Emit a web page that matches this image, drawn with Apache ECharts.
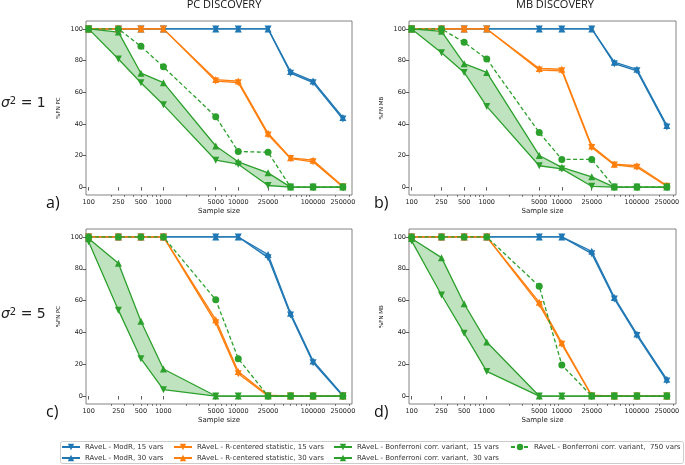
<!DOCTYPE html>
<html>

<head>
    <meta charset="utf-8">
    <title>RAveL false negatives</title>
    <script src="https://cdn.jsdelivr.net/npm/echarts@6/dist/echarts.min.js"></script>
</head>

<body style="margin:0;background:#fff;">
    <div id="main" style="width: 685px;height:465px;"></div>
    <script type="text/javascript">
        // sample sizes on the x axis (log scale) and the ones that get a label
        var sampleSizes = [100, 250, 500, 1000, 5000, 10000, 25000, 50000, 100000, 250000];
        var tickSizes = [100, 250, 500, 1000, 5000, 10000, 25000, 100000, 250000];
        var yTicks = [0, 20, 40, 60, 80, 100];

        // a) PC discovery, sigma^2 = 1
        var pc1ModR15 = [100, 100, 100, 100, 100, 100, 100, 72, 66, 43];
        var pc1ModR30 = [100, 100, 100, 100, 100, 100, 100, 73, 67, 44];
        var pc1RC15 = [100, 100, 100, 100, 67, 66, 33, 18, 16, 0];
        var pc1RC30 = [100, 100, 100, 100, 68, 67, 34, 18.5, 17, 0.5];
        var pc1Bf15 = [100, 81, 66, 52, 17, 14.5, 1, 0, 0, 0];
        var pc1Bf30 = [100, 98, 72, 66, 26, 16, 9, 0, 0, 0];
        var pc1Bf750 = [100, 100, 89, 76, 44.5, 22.5, 22, 0, 0, 0];

        // b) MB discovery, sigma^2 = 1
        var mb1ModR15 = [100, 100, 100, 100, 100, 100, 100, 78, 73.5, 38];
        var mb1ModR30 = [100, 100, 100, 100, 100, 100, 100, 79, 74.5, 39];
        var mb1RC15 = [100, 100, 100, 100, 74, 73.5, 25, 14, 12.5, 0.5];
        var mb1RC30 = [100, 100, 100, 100, 75, 74.5, 26, 14.5, 13.5, 1];
        var mb1Bf15 = [100, 85, 72.5, 51, 13.5, 11.5, 0.5, 0, 0, 0];
        var mb1Bf30 = [100, 98.5, 78, 72.5, 20, 12.5, 6.5, 0, 0, 0];
        var mb1Bf750 = [100, 100, 91.5, 81, 34.5, 17.5, 17.5, 0, 0, 0];

        // c) PC discovery, sigma^2 = 5
        var pc5ModR15 = [100, 100, 100, 100, 100, 100, 87, 51, 21, 0];
        var pc5ModR30 = [100, 100, 100, 100, 100, 100, 89, 52, 22, 0.5];
        var pc5RC15 = [100, 100, 100, 100, 46, 14, 0, 0, 0, 0];
        var pc5RC30 = [100, 100, 100, 100, 48, 15.5, 0.5, 0, 0, 0];
        var pc5Bf15 = [97, 54, 23.5, 4, 0, 0, 0, 0, 0, 0];
        var pc5Bf30 = [99, 83.5, 47, 17, 0, 0, 0, 0, 0, 0];
        var pc5Bf750 = [100, 100, 100, 100, 60.5, 23.5, 0, 0, 0, 0];

        // d) MB discovery, sigma^2 = 5
        var mb5ModR15 = [100, 100, 100, 100, 100, 100, 89.5, 61, 38, 9.5];
        var mb5ModR30 = [100, 100, 100, 100, 100, 100, 91, 62, 39, 10.5];
        var mb5RC15 = [100, 100, 100, 100, 57.5, 32.5, 0, 0, 0, 0];
        var mb5RC30 = [100, 100, 100, 100, 59, 33.5, 0.5, 0, 0, 0];
        var mb5Bf15 = [97.5, 63.5, 39.5, 15.5, 0, 0, 0, 0, 0, 0];
        var mb5Bf30 = [99, 87, 58, 34, 0, 0, 0, 0, 0, 0];
        var mb5Bf750 = [100, 100, 100, 100, 69, 19.5, 0, 0, 0, 0];

        var seriesNames = [
            'RAveL - ModR, 15 vars',
            'RAveL - ModR, 30 vars',
            'RAveL - R-centered statistic, 15 vars',
            'RAveL - R-centered statistic, 30 vars',
            'RAveL - Bonferroni corr. variant,  15 vars',
            'RAveL - Bonferroni corr. variant,  30 vars',
            'RAveL - Bonferroni corr. variant,  750 vars'
        ];

        var BLUE = '#1f77b4', ORANGE = '#ff7f0e', GREEN = '#2ca02c';
        var DOWN = 'path://M0,0L10,0L5,10Z';

        var logX = sampleSizes.map(function (n) { return Math.log10(n); });
        var minorTicks = [];
        [100, 1000, 10000, 100000].forEach(function (d) {
            for (var m = 2; m <= 9; m++) {
                if (d * m <= 300000) minorTicks.push(Math.log10(d * m));
            }
        });

        var panels = [
            { grid: { left: 86, top: 21, width: 266, height: 174 }, yName: '%FN PC',
              s: [pc1ModR15, pc1ModR30, pc1RC15, pc1RC30, pc1Bf15, pc1Bf30, pc1Bf750] },
            { grid: { left: 409, top: 21, width: 267, height: 174 }, yName: '%FN MB',
              s: [mb1ModR15, mb1ModR30, mb1RC15, mb1RC30, mb1Bf15, mb1Bf30, mb1Bf750] },
            { grid: { left: 86, top: 229, width: 266, height: 175 }, yName: '%FN PC',
              s: [pc5ModR15, pc5ModR30, pc5RC15, pc5RC30, pc5Bf15, pc5Bf30, pc5Bf750] },
            { grid: { left: 409, top: 229, width: 267, height: 175 }, yName: '%FN MB',
              s: [mb5ModR15, mb5ModR30, mb5RC15, mb5RC30, mb5Bf15, mb5Bf30, mb5Bf750] }
        ];

        var colors = [BLUE, BLUE, ORANGE, ORANGE, GREEN, GREEN, GREEN];
        var symbols = [DOWN, 'triangle', DOWN, 'triangle', DOWN, 'triangle', 'circle'];

        function points(vals) {
            return vals.map(function (v, k) { return [logX[k], v]; });
        }

        // shaded band between the 15 vars and 30 vars runs
        function band(p, a, b, color) {
            return {
                type: 'custom', xAxisIndex: p, yAxisIndex: p, silent: true, z: 1,
                data: [[logX[0], a[0]]],
                renderItem: function (params, api) {
                    var top = a.map(function (v, k) { return api.coord([logX[k], Math.max(v, b[k])]); });
                    var bot = b.map(function (v, k) { return api.coord([logX[k], Math.min(v, a[k])]); }).reverse();
                    return {
                        type: 'polygon',
                        shape: { points: top.concat(bot) },
                        style: { fill: color, opacity: 0.3 }
                    };
                }
            };
        }

        var grids = [], xAxes = [], yAxes = [], series = [];
        panels.forEach(function (pan, p) {
            grids.push(Object.assign({ show: true, borderColor: '#666', borderWidth: 0.8, backgroundColor: '#fff' }, pan.grid));
            xAxes.push({
                type: 'value', gridIndex: p, min: 1.965, max: 5.52, position: 'bottom',
                axisLine: { show: false },
                splitLine: { show: false },
                axisTick: { customValues: tickSizes.map(Math.log10), length: 3.5, lineStyle: { color: '#333', width: 0.8 } },
                axisLabel: {
                    customValues: tickSizes.map(Math.log10), margin: 4,
                    fontSize: 6.5, color: '#222', fontFamily: 'DejaVu Sans',
                    formatter: function (v) { return String(Math.round(Math.pow(10, v))); }
                },
                name: 'Sample size', nameLocation: 'middle', nameGap: 13,
                nameTextStyle: { fontSize: 7, color: '#222', fontFamily: 'DejaVu Sans' }
            });
            yAxes.push({
                type: 'value', gridIndex: p, min: -5, max: 105,
                axisLine: { show: false },
                splitLine: { show: false },
                axisTick: { customValues: yTicks, length: 3.5, lineStyle: { color: '#333', width: 0.8 } },
                axisLabel: { customValues: yTicks, margin: 3, fontSize: 6.5, color: '#222', fontFamily: 'DejaVu Sans' },
                name: pan.yName, nameLocation: 'middle', nameGap: 24,
                nameTextStyle: { fontSize: 5.5, color: '#222', fontFamily: 'DejaVu Sans' }
            });

            series.push(band(p, pan.s[1], pan.s[0], BLUE));
            series.push(band(p, pan.s[3], pan.s[2], ORANGE));
            series.push(band(p, pan.s[5], pan.s[4], GREEN));

            pan.s.forEach(function (vals, k) {
                series.push({
                    name: seriesNames[k], type: 'line', xAxisIndex: p, yAxisIndex: p, z: 2,
                    data: points(vals),
                    symbol: symbols[k], symbolSize: 7,
                    color: colors[k],
                    itemStyle: { color: colors[k] },
                    lineStyle: { color: colors[k], width: 1.3, type: k === 6 ? [4, 2.5] : 'solid' }
                });
            });
        });

        // minor log ticks
        panels.forEach(function (pan, p) {
            xAxes.push({
                type: 'value', gridIndex: p, min: 1.965, max: 5.52, position: 'bottom',
                axisLine: { show: false }, splitLine: { show: false },
                axisLabel: { show: false },
                axisTick: { customValues: minorTicks, length: 2, lineStyle: { color: '#333', width: 0.6 } }
            });
        });

        function legendCol(names, left) {
            return {
                type: 'plain', data: names, orient: 'vertical', left: left, top: 442,
                padding: 0, height: 40,
                itemWidth: 18, itemHeight: 8, itemGap: 1,
                textStyle: { fontSize: 7, color: '#333', fontFamily: 'DejaVu Sans', lineHeight: 10 },
                selectedMode: false
            };
        }

        var sigmaRich = {
            s: { fontSize: 14, fontStyle: 'italic', fontFamily: 'DejaVu Sans', fill: '#222' },
            t: { fontSize: 10, fontFamily: 'DejaVu Sans', verticalAlign: 'top', fill: '#222' },
            n: { fontSize: 14, fontFamily: 'DejaVu Sans', fill: '#222' }
        };

        function label(text, x, y, size) {
            return { type: 'text', x: x, y: y, style: { text: text, fill: '#111', font: size + 'px "Open Sans"', align: 'left', verticalAlign: 'middle' } };
        }

        var myChart = echarts.init(document.getElementById('main'));
        myChart.setOption({
            animation: false,
            backgroundColor: '#fff',
            grid: grids,
            xAxis: xAxes,
            yAxis: yAxes,
            series: series,
            legend: [
                legendCol(seriesNames.slice(0, 2), 61),
                legendCol(seriesNames.slice(2, 4), 173),
                legendCol(seriesNames.slice(4, 6), 333),
                legendCol(seriesNames.slice(6, 7), 510)
            ],
            graphic: [
                { type: 'rect', z: -1, shape: { x: 60.5, y: 441.5, width: 623, height: 22, r: 2 },
                  style: { fill: '#fff', stroke: '#ccc', lineWidth: 1 } },
                { type: 'text', x: 224, y: 5, style: { text: 'PC DISCOVERY', fill: '#111', font: '11px "Open Sans"', align: 'center', verticalAlign: 'middle' } },
                { type: 'text', x: 555, y: 5, style: { text: 'MB DISCOVERY', fill: '#111', font: '11px "Open Sans"', align: 'center', verticalAlign: 'middle' } },
                { type: 'text', x: 1, y: 103, style: { text: '{s|σ}{t|2}{n| = 1}', rich: sigmaRich, align: 'left', verticalAlign: 'middle' } },
                { type: 'text', x: 1, y: 314, style: { text: '{s|σ}{t|2}{n| = 5}', rich: sigmaRich, align: 'left', verticalAlign: 'middle' } },
                label('a)', 46, 203, 16),
                label('b)', 374, 203, 16),
                label('c)', 46, 412, 16),
                label('d)', 374, 412, 16)
            ]
        });
    </script>
</body>

</html>
